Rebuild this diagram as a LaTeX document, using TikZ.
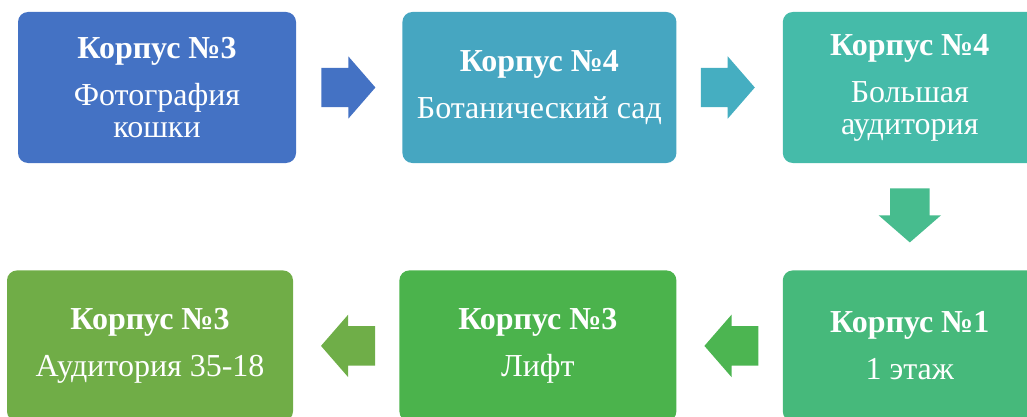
\documentclass[tikz,border=0pt]{standalone}
\usepackage{fontspec}
\setmainfont{Liberation Serif}
\usetikzlibrary{positioning,shapes.arrows,calc}
\definecolor{stepa}{HTML}{4472C4}
\definecolor{stepb}{HTML}{46A6C1}
\definecolor{stepc}{HTML}{45BBA9}
\definecolor{stepd}{HTML}{46B97B}
\definecolor{stepe}{HTML}{4BB34C}
\definecolor{stepf}{HTML}{70AD47}
\definecolor{arrb}{HTML}{45AEC1}
\definecolor{arrc}{HTML}{47BC8E}
\definecolor{arrd}{HTML}{4CB551}
\definecolor{arre}{HTML}{6FAE48}
\tikzset{
	stage/.style={rectangle, rounded corners=10pt, text=white, align=center, minimum height=151pt, inner sep=0pt, font=\fontsize{32}{32}\selectfont},
	flow/.style={single arrow, anchor=tail, minimum height=54pt, single arrow head extend=11.5pt, single arrow tip angle=98, inner xsep=0pt, inner ysep=19.5pt},
}
\begin{document}
\begin{tikzpicture}[x=1pt, y=-1pt, node distance=107pt and 106pt]
			\useasboundingbox (0,0) rectangle (1027,417);
			\node[stage, fill=stepa, minimum width=278pt] (k3photo) at (157,87.5) {\textbf{Корпус №3}\\[15pt]Фотография\\кошки};
			\node[stage, fill=stepb, minimum width=274pt, right=of k3photo] (k4garden) {\textbf{Корпус №4}\\[15pt]Ботанический сад};
			\node[stage, fill=stepc, minimum width=254pt, right=of k4garden] (k4hall) {\textbf{Корпус №4}\\[15pt]Большая\\аудитория};
			\node[stage, fill=stepd, minimum width=254pt, below=of k4hall] (k1floor) {\textbf{Корпус №1}\\[15pt]1 этаж};
			\node[stage, fill=stepe, minimum width=277pt, left=of k1floor] (k3lift) {\textbf{Корпус №3}\\[15pt]Лифт};
			\node[stage, fill=stepf, minimum width=286pt, left=of k3lift] (k3room) {\textbf{Корпус №3}\\[15pt]Аудитория 35-18};

			\node[flow, fill=stepa] (a1) at ([xshift=25pt]k3photo.east) {};
			\node[flow, fill=arrb] (a2) at ([xshift=24pt]k4garden.east) {};
			\node[flow, fill=arrc, rotate=-90] (a3) at ([yshift=-25pt]k4hall.south) {};
			\node[flow, fill=arrd, rotate=180] (a4) at ([xshift=-24pt]k1floor.west) {};
			\node[flow, fill=arre, rotate=180] (a5) at ([xshift=-24pt]k3lift.west) {};
		\end{tikzpicture}
\end{document}
